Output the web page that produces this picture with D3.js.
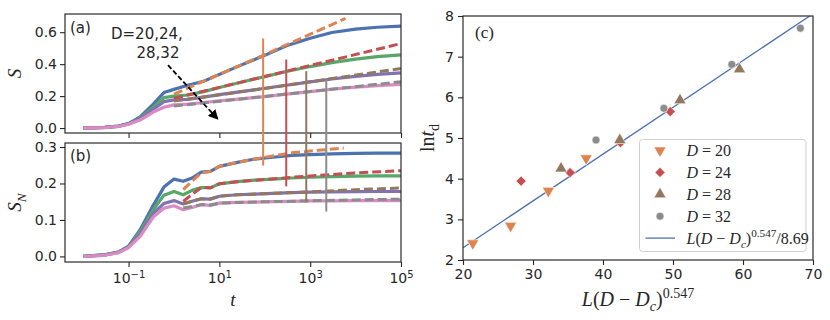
<!DOCTYPE html>
<html>
<head>
<meta charset="utf-8">
<script src="https://cdn.jsdelivr.net/npm/d3@7"></script>
<style>
  body { margin: 0; background: #fff; }
  .tick text { font-family: "DejaVu Sans", sans-serif; font-size: 14px; fill: #262626; }
  .tick line { stroke: #262626; stroke-width: 1.1; }
  .domain { display: none; }
</style>
</head>
<body>
<svg id="fig" width="830" height="320"></svg>
<script>
// ---------------- data ----------------
// panels (a) and (b): time grids
var tA = [0.01, 0.03, 0.06, 0.1, 0.18, 0.35, 0.6, 1, 2, 4.5, 10, 30, 100, 300, 1000, 3000, 1e4, 3e4, 1e5];
var tB = [0.01, 0.03, 0.06, 0.1, 0.18, 0.35, 0.6, 1, 1.6, 2.5, 4, 6.3, 10, 25, 60, 150, 400, 1000, 3000, 1e4, 3e4, 1e5];

// (a) S, solid curves
var sBlue   = [0, 0.004, 0.012, 0.028, 0.07, 0.15, 0.222, 0.242, 0.268, 0.293, 0.336, 0.394, 0.455, 0.515, 0.562, 0.598, 0.619, 0.631, 0.638];
var sGreen  = [0, 0.004, 0.012, 0.027, 0.065, 0.13, 0.19, 0.2, 0.207, 0.228, 0.254, 0.287, 0.322, 0.354, 0.385, 0.41, 0.432, 0.447, 0.458];
var sPurple = [0, 0.004, 0.011, 0.026, 0.06, 0.118, 0.165, 0.176, 0.18, 0.194, 0.209, 0.228, 0.249, 0.268, 0.289, 0.307, 0.324, 0.336, 0.346];
var sPink   = [0, 0.003, 0.01, 0.024, 0.05, 0.1, 0.13, 0.145, 0.15, 0.16, 0.17, 0.183, 0.197, 0.212, 0.228, 0.243, 0.256, 0.266, 0.274];

// (a) S, dashed fits
var tFitOrangeA = [1, 100, 6000];
var sFitOrange  = [0.2125, 0.46, 0.686];
var tFitA       = [1, 100, 1e5];
var sFitRed     = [0.186, 0.323, 0.529];
var sFitBrown   = [0.169, 0.248, 0.373];
var sFitGray    = [0.1375, 0.198, 0.29];

// (b) S_N, solid curves
var nBlue   = [0, 0.004, 0.012, 0.028, 0.073, 0.14, 0.19, 0.212, 0.206, 0.215, 0.231, 0.233, 0.247, 0.258, 0.267, 0.272, 0.277, 0.279, 0.281, 0.2825, 0.283, 0.2835];
var nGreen  = [0, 0.004, 0.012, 0.027, 0.068, 0.128, 0.168, 0.178, 0.169, 0.181, 0.189, 0.188, 0.199, 0.205, 0.209, 0.212, 0.215, 0.217, 0.219, 0.22, 0.221, 0.221];
var nPurple = [0, 0.004, 0.011, 0.026, 0.062, 0.118, 0.145, 0.153, 0.144, 0.151, 0.158, 0.157, 0.165, 0.169, 0.171, 0.173, 0.175, 0.176, 0.177, 0.1775, 0.178, 0.178];
var nPink   = [0, 0.003, 0.01, 0.024, 0.055, 0.108, 0.132, 0.139, 0.128, 0.134, 0.142, 0.14, 0.146, 0.148, 0.149, 0.15, 0.151, 0.152, 0.152, 0.153, 0.153, 0.153];

// (b) S_N, dashed
var tFitOrangeB = [1.6, 2.5, 4, 6.3, 10, 25, 100, 400, 1500, 5500];
var nFitOrange  = [0.183, 0.206, 0.229, 0.233, 0.247, 0.258, 0.272, 0.284, 0.291, 0.297];
var tFitB       = [1.6, 2.5, 4, 6.3, 10, 25, 100, 400, 1500, 1e4, 1e5];
var nFitRed     = [0.151, 0.17, 0.189, 0.188, 0.199, 0.205, 0.211, 0.217, 0.222, 0.229, 0.235];
var nFitBrown   = [0.144, 0.151, 0.158, 0.157, 0.165, 0.169, 0.172, 0.175, 0.178, 0.183, 0.1875];
var nFitGray    = [0.133, 0.137, 0.142, 0.141, 0.146, 0.148, 0.15, 0.151, 0.153, 0.155, 0.157];

// vertical markers t_d, spanning from panel (a) down into panel (b)
var tD      = [92, 297, 819, 2259];
var vTopS   = [0.561, 0.429, 0.356, 0.30];
var vBotSN  = [0.249, 0.192, 0.148, 0.123];

// arrow in (a): [t, S]
var arrowFrom = [0.74, 0.394],
    arrowTo   = [9.2, 0.056];

// panel (c)
var xD20 = [21.4, 26.8, 32.2, 37.6], yD20 = [2.41, 2.84, 3.70, 4.50];
var xD24 = [28.3, 35.3, 42.5, 49.6], yD24 = [3.94, 4.15, 4.885, 5.65];
var xD28 = [34.0, 42.4, 51.0, 59.5], yD28 = [4.25, 4.95, 5.93, 6.69];
var xD32 = [39.0, 48.7, 58.4, 68.2], yD32 = [4.95, 5.73, 6.81, 7.70];
var fitDiv = 8.69;

var xTicksAB = [0.1, 10, 1000, 1e5],
    yTicksA = [0, 0.2, 0.4, 0.6],
    yTicksB = [0, 0.1, 0.2, 0.3],
    xTicksC = [20, 30, 40, 50, 60, 70],
    yTicksC = [2, 3, 4, 5, 6, 7, 8];

// ---------------- layout ----------------
var col = {
  blue: "#4c72b0", orange: "#dd8452", green: "#55a868", red: "#c44e52",
  purple: "#8172b3", brown: "#937860", pink: "#da8bc3", gray: "#8c8c8c"
};
var serif = "'Liberation Serif', 'DejaVu Serif', serif",
    sans = "'DejaVu Sans', sans-serif";

var boxA = {left: 65, top: 14, right: 401, bottom: 133},
    boxB = {left: 65, top: 143, right: 401, bottom: 262},
    boxC = {left: 463, top: 16, right: 813, bottom: 260};

var svg = d3.select("#fig");

var x = d3.scaleLog().domain([Math.pow(10, -2.4), 1e5]).range([boxA.left, boxA.right]);
var yA = d3.scaleLinear().domain([-0.031, 0.714]).range([boxA.bottom, boxA.top]);
var yB = d3.scaleLinear().domain([-0.0154, 0.311]).range([boxB.bottom, boxB.top]);
var xC = d3.scaleLinear().domain([20, 70]).range([boxC.left, boxC.right]);
var yC = d3.scaleLinear().domain([2, 8]).range([boxC.bottom, boxC.top]);

// text with sub/superscripts; parts = [text, "sub"|"sup"|"", italic]
function richText(g, parts, size, family) {
  var t = g.append("text").style("font-family", family || serif).style("font-size", size + "px").attr("fill", "#262626");
  var shift = 0;
  parts.forEach(function(p) {
    var s = t.append("tspan").text(p[0]);
    var want = p[1] === "sub" ? 0.25 * size : p[1] === "sup" ? -0.42 * size : 0;
    if (want !== shift) { s.attr("dy", want - shift); shift = want; }
    if (p[1] === "sub" || p[1] === "sup") s.style("font-size", (size * 0.7) + "px");
    if (p[2]) s.style("font-style", "italic");
  });
  return t;
}

function frame(b) {
  svg.append("rect")
    .attr("x", b.left).attr("y", b.top)
    .attr("width", b.right - b.left).attr("height", b.bottom - b.top)
    .attr("fill", "none").attr("stroke", "#333").attr("stroke-width", 1.25);
}

// ---------------- panels (a) and (b) ----------------
var lineA = d3.line().x(d => x(d[0])).y(d => yA(d[1]));
var lineB = d3.line().x(d => x(d[0])).y(d => yB(d[1]));

function curve(gen, t, v, color, dashed) {
  svg.append("path")
    .datum(d3.zip(t, v))
    .attr("d", gen)
    .attr("fill", "none")
    .attr("stroke", color)
    .attr("stroke-width", dashed ? 3 : 3.2)
    .attr("stroke-dasharray", dashed ? "9,4" : null)
    .attr("stroke-linejoin", "round");
}

// (a)
curve(lineA, tA, sBlue, col.blue);
curve(lineA, tA, sGreen, col.green);
curve(lineA, tA, sPurple, col.purple);
curve(lineA, tA, sPink, col.pink);
curve(lineA, tFitOrangeA, sFitOrange, col.orange, true);
curve(lineA, tFitA, sFitRed, col.red, true);
curve(lineA, tFitA, sFitBrown, col.brown, true);
curve(lineA, tFitA, sFitGray, col.gray, true);

// (b)
curve(lineB, tB, nBlue, col.blue);
curve(lineB, tB, nGreen, col.green);
curve(lineB, tB, nPurple, col.purple);
curve(lineB, tB, nPink, col.pink);
curve(lineB, tFitOrangeB, nFitOrange, col.orange, true);
curve(lineB, tFitB, nFitRed, col.red, true);
curve(lineB, tFitB, nFitBrown, col.brown, true);
curve(lineB, tFitB, nFitGray, col.gray, true);

frame(boxA);
frame(boxB);

// vertical t_d markers crossing both panels
var vColors = [col.orange, col.red, col.brown, col.gray];
tD.forEach(function(t, i) {
  svg.append("line")
    .attr("x1", x(t)).attr("x2", x(t))
    .attr("y1", yA(vTopS[i])).attr("y2", yB(vBotSN[i]))
    .attr("stroke", vColors[i]).attr("stroke-width", 2);
});

// arrow
svg.append("defs").append("marker")
  .attr("id", "head")
  .attr("markerUnits", "userSpaceOnUse")
  .attr("markerWidth", 10).attr("markerHeight", 10)
  .attr("viewBox", "0 0 10 10")
  .attr("refX", 9).attr("refY", 5)
  .attr("orient", "auto")
  .append("path").attr("d", "M0,0 L10,5 L0,10 z").attr("fill", "#000");

svg.append("line")
  .attr("x1", x(arrowFrom[0])).attr("y1", yA(arrowFrom[1]))
  .attr("x2", x(arrowTo[0])).attr("y2", yA(arrowTo[1]))
  .attr("stroke", "#000").attr("stroke-width", 1.8)
  .attr("stroke-dasharray", "5,2.5")
  .attr("marker-end", "url(#head)");

svg.append("text").attr("x", 111).attr("y", 39)
  .style("font-family", sans).style("font-size", "15px").attr("fill", "#262626")
  .text("D=20,24,");
svg.append("text").attr("x", 136.5).attr("y", 57.5)
  .style("font-family", sans).style("font-size", "15px").attr("fill", "#262626")
  .text("28,32");

svg.append("text").attr("x", 70).attr("y", 33)
  .style("font-family", sans).style("font-size", "15px").attr("fill", "#262626").text("(a)");
svg.append("text").attr("x", 70).attr("y", 161)
  .style("font-family", sans).style("font-size", "15px").attr("fill", "#262626").text("(b)");

// axes (a)
svg.append("g")
  .attr("transform", "translate(0," + boxA.bottom + ")")
  .call(d3.axisBottom(x).tickValues(xTicksAB).tickSize(5).tickFormat(""));
svg.append("g")
  .attr("transform", "translate(" + boxA.left + ",0)")
  .call(d3.axisLeft(yA).tickValues(yTicksA).tickSize(5).tickPadding(3).tickFormat(d3.format(".1f")));

// axes (b)
var gxB = svg.append("g")
  .attr("transform", "translate(0," + boxB.bottom + ")")
  .call(d3.axisBottom(x).tickValues(xTicksAB).tickSize(5).tickPadding(6).tickFormat(""));
gxB.selectAll(".tick text").each(function(d) {
  var e = Math.round(Math.log10(d));
  var t = d3.select(this).text("");
  t.append("tspan").text("10");
  t.append("tspan").attr("dy", "-0.45em").style("font-size", "10px")
    .text(e < 0 ? "\u2212" + (-e) : String(e));
});
svg.append("g")
  .attr("transform", "translate(" + boxB.left + ",0)")
  .call(d3.axisLeft(yB).tickValues(yTicksB).tickSize(5).tickPadding(3).tickFormat(d3.format(".1f")));

// axis labels (a),(b)
richText(svg, [["S", "", true]], 19)
  .attr("text-anchor", "middle")
  .attr("transform", "translate(21," + ((boxA.top + boxA.bottom) / 2) + ") rotate(-90)");
richText(svg, [["S", "", true], ["N", "sub", true]], 19)
  .attr("text-anchor", "middle")
  .attr("transform", "translate(21," + ((boxB.top + boxB.bottom) / 2) + ") rotate(-90)");
richText(svg, [["t", "", true]], 19)
  .attr("text-anchor", "middle")
  .attr("x", (boxB.left + boxB.right) / 2).attr("y", 306);

// ---------------- panel (c) ----------------
svg.append("defs").append("clipPath").attr("id", "clipC")
  .append("rect").attr("x", boxC.left).attr("y", boxC.top)
  .attr("width", boxC.right - boxC.left).attr("height", boxC.bottom - boxC.top);

var fitX = [20, 70];
svg.append("path")
  .datum(fitX.map(v => [v, v / fitDiv]))
  .attr("clip-path", "url(#clipC)")
  .attr("d", d3.line().x(d => xC(d[0])).y(d => yC(d[1])))
  .attr("fill", "none").attr("stroke", col.blue).attr("stroke-width", 1.3);

var groups = [
  {xs: xD20, ys: yD20, color: col.orange, type: d3.symbolTriangle, size: 64, rot: 180, label: "20"},
  {xs: xD24, ys: yD24, color: col.red, type: d3.symbolSquare, size: 52, rot: 45, label: "24"},
  {xs: xD28, ys: yD28, color: col.brown, type: d3.symbolTriangle, size: 64, rot: 0, label: "28"},
  {xs: xD32, ys: yD32, color: col.gray, type: d3.symbolCircle, size: 50, rot: 0, label: "32"}
];

groups.forEach(function(gr) {
  svg.append("g").selectAll("path")
    .data(d3.zip(gr.xs, gr.ys))
    .join("path")
    .attr("d", d3.symbol().type(gr.type).size(gr.size))
    .attr("transform", d => "translate(" + xC(d[0]) + "," + yC(d[1]) + ") rotate(" + gr.rot + ")")
    .attr("fill", gr.color)
    .attr("stroke", "#fff").attr("stroke-width", 0.6);
});

frame(boxC);

svg.append("g")
  .attr("transform", "translate(0," + boxC.bottom + ")")
  .call(d3.axisBottom(xC).tickValues(xTicksC).tickSize(5).tickPadding(4).tickFormat(d3.format("d")));
svg.append("g")
  .attr("transform", "translate(" + boxC.left + ",0)")
  .call(d3.axisLeft(yC).tickValues(yTicksC).tickSize(5).tickPadding(4).tickFormat(d3.format("d")));

svg.append("text").attr("x", 475).attr("y", 38)
  .style("font-family", serif).style("font-size", "17px").attr("fill", "#262626").text("(c)");

// legend
var leg = svg.append("g");
leg.append("rect")
  .attr("x", 639.5).attr("y", 139.5).attr("width", 166.5).attr("height", 112).attr("rx", 3)
  .attr("fill", "#fff").attr("fill-opacity", 0.85).attr("stroke", "#d0d0d0").attr("stroke-width", 1);
groups.forEach(function(gr, i) {
  var yy = 150.5 + i * 21.9;
  leg.append("path")
    .attr("d", d3.symbol().type(gr.type).size(gr.size))
    .attr("transform", "translate(660," + yy + ") rotate(" + gr.rot + ")")
    .attr("fill", gr.color).attr("stroke", "#fff").attr("stroke-width", 0.6);
  richText(leg, [["D", "", true], [" = " + gr.label, "", false]], 16)
    .attr("x", 686.5).attr("y", yy + 5.5);
});
var yLine = 150.5 + 4 * 21.9;
leg.append("line").attr("x1", 645.5).attr("x2", 675).attr("y1", yLine).attr("y2", yLine)
  .attr("stroke", col.blue).attr("stroke-width", 1.3);
richText(leg, [["L", "", true], ["(", "", false], ["D", "", true], [" \u2212 ", "", false], ["D", "", true],
               ["c", "sub", true], [")", "", false], ["0.547", "sup", false], ["/8.69", "", false]], 16)
  .attr("x", 686.5).attr("y", yLine + 5.5);

// axis labels (c)
richText(svg, [["L", "", true], ["(", "", false], ["D", "", true], [" \u2212 ", "", false], ["D", "", true],
               ["c", "sub", true], [")", "", false], ["0.547", "sup", false]], 20)
  .attr("text-anchor", "middle")
  .attr("x", (boxC.left + boxC.right) / 2).attr("y", 306);
richText(svg, [["ln", "", false], ["t", "", true], ["d", "sub", false]], 20)
  .attr("text-anchor", "middle")
  .attr("transform", "translate(434," + ((boxC.top + boxC.bottom) / 2) + ") rotate(-90)");
</script>
</body>
</html>
